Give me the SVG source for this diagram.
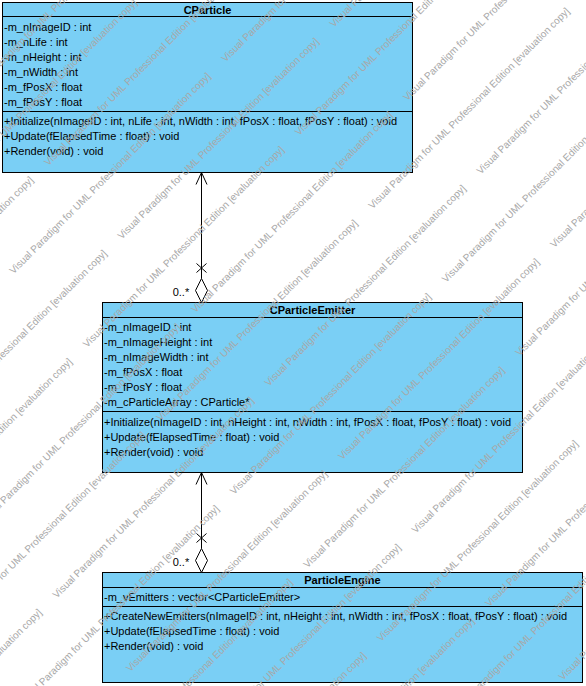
<svg xmlns="http://www.w3.org/2000/svg" width="586" height="686" viewBox="0 0 586 686">
<style>
.box{fill:#7acff5;stroke:#000;stroke-width:1}
.sep{stroke:#000;stroke-width:1}
.t{font-family:"Liberation Sans",Arial,sans-serif;font-size:11px;fill:#000}
.title{font-family:"Liberation Sans",Arial,sans-serif;font-size:11px;font-weight:bold;fill:#000;text-anchor:middle}
.ln{stroke:#000;stroke-width:1;fill:none}
.dia{stroke:#000;stroke-width:1;fill:#fff}
.wm{font-family:"Liberation Sans",Arial,sans-serif;font-size:10px;fill:#a8a8a8}
</style>
<rect width="586" height="686" fill="#fff"/>
<g id="CParticle">
<rect class="box" x="2.5" y="2.5" width="410" height="170"/>
<line class="sep" x1="2.5" y1="16.5" x2="412.5" y2="16.5"/>
<line class="sep" x1="2.5" y1="111.5" x2="412.5" y2="111.5"/>
<text class="title" x="207.5" y="13.5">CParticle</text>
<text class="t" x="4" y="30.7">-m_nImageID : int</text>
<text class="t" x="4" y="45.7">-m_nLife : int</text>
<text class="t" x="4" y="60.7">-m_nHeight : int</text>
<text class="t" x="4" y="75.7">-m_nWidth : int</text>
<text class="t" x="4" y="90.7">-m_fPosX : float</text>
<text class="t" x="4" y="105.7">-m_fPosY : float</text>
<text class="t" x="4" y="124.7" textLength="393" lengthAdjust="spacing">+Initialize(nImageID : int, nLife : int, nWidth : int, fPosX : float, fPosY : float) : void</text>
<text class="t" x="4" y="139.7">+Update(fElapsedTime : float) : void</text>
<text class="t" x="4" y="154.7">+Render(void) : void</text>
</g>
<g id="CParticleEmitter">
<rect class="box" x="102.5" y="302.5" width="420" height="170"/>
<line class="sep" x1="102.5" y1="317.5" x2="522.5" y2="317.5"/>
<line class="sep" x1="102.5" y1="411.5" x2="522.5" y2="411.5"/>
<text class="title" x="312.5" y="314">CParticleEmitter</text>
<text class="t" x="104" y="331">-m_nImageID : int</text>
<text class="t" x="104" y="346">-m_nImageHeight : int</text>
<text class="t" x="104" y="361">-m_nImageWidth : int</text>
<text class="t" x="104" y="376">-m_fPosX : float</text>
<text class="t" x="104" y="391">-m_fPosY : float</text>
<text class="t" x="104" y="406">-m_cParticleArray : CParticle*</text>
<text class="t" x="104" y="425.5" textLength="407" lengthAdjust="spacing">+Initialize(nImageID : int, nHeight : int, nWidth : int, fPosX : float, fPosY : float) : void</text>
<text class="t" x="104" y="440.5">+Update(fElapsedTime : float) : void</text>
<text class="t" x="104" y="455.5">+Render(void) : void</text>
</g>
<g id="ParticleEngine">
<rect class="box" x="102.5" y="572.5" width="480" height="110"/>
<line class="sep" x1="102.5" y1="587.5" x2="582.5" y2="587.5"/>
<line class="sep" x1="102.5" y1="606.5" x2="582.5" y2="606.5"/>
<text class="title" x="342.5" y="584">ParticleEngine</text>
<text class="t" x="104" y="600.7">-m_vEmitters : vector&lt;CParticleEmitter&gt;</text>
<text class="t" x="104" y="620" textLength="463" lengthAdjust="spacing">+CreateNewEmitters(nImageID : int, nHeight : int, nWidth : int, fPosX : float, fPosY : float) : void</text>
<text class="t" x="104" y="635">+Update(fElapsedTime : float) : void</text>
<text class="t" x="104" y="650">+Render(void) : void</text>
</g>
<g id="connectors">
<g id="emitter-particle">
<line class="ln" x1="201.5" y1="172.5" x2="201.5" y2="278.5"/>
<polyline class="ln" points="196,184.5 201.5,172.5 207,184.5"/>
<line class="ln" x1="196.5" y1="263.5" x2="206.5" y2="272.5"/>
<line class="ln" x1="196.5" y1="272.5" x2="206.5" y2="263.5"/>
<polygon class="dia" points="201.5,278.5 195.5,290.5 201.5,302.5 207.5,290.5"/>
<text class="t" x="172.7" y="295.7">0..*</text>
</g>
<g id="engine-emitter">
<line class="ln" x1="201.5" y1="472.5" x2="201.5" y2="548.5"/>
<polyline class="ln" points="196,484.5 201.5,472.5 207,484.5"/>
<line class="ln" x1="196.5" y1="533.5" x2="206.5" y2="542.5"/>
<line class="ln" x1="196.5" y1="542.5" x2="206.5" y2="533.5"/>
<polygon class="dia" points="201.5,548.5 195.5,560.5 201.5,572.5 207.5,560.5"/>
<text class="t" x="172.7" y="566">0..*</text>
</g>
</g>
<g id="watermark">
<text class="wm" transform="translate(-25.25,92.75) rotate(-45)">Visual Paradigm for UML Professional Edition [evaluation copy]</text>
<text class="wm" transform="translate(-60,201) rotate(-45)">Visual Paradigm for UML Professional Edition [evaluation copy]</text>
<text class="wm" transform="translate(-163.75,378.25) rotate(-45)">Visual Paradigm for UML Professional Edition [evaluation copy]</text>
<text class="wm" transform="translate(48.25,166.25) rotate(-45)">Visual Paradigm for UML Professional Edition [evaluation copy]</text>
<text class="wm" transform="translate(13.5,274.5) rotate(-45)">Visual Paradigm for UML Professional Edition [evaluation copy]</text>
<text class="wm" transform="translate(225.5,62.5) rotate(-45)">Visual Paradigm for UML Professional Edition [evaluation copy]</text>
<text class="wm" transform="translate(-90.25,451.75) rotate(-45)">Visual Paradigm for UML Professional Edition [evaluation copy]</text>
<text class="wm" transform="translate(121.75,239.75) rotate(-45)">Visual Paradigm for UML Professional Edition [evaluation copy]</text>
<text class="wm" transform="translate(333.75,27.75) rotate(-45)">Visual Paradigm for UML Professional Edition [evaluation copy]</text>
<text class="wm" transform="translate(-125,560) rotate(-45)">Visual Paradigm for UML Professional Edition [evaluation copy]</text>
<text class="wm" transform="translate(87,348) rotate(-45)">Visual Paradigm for UML Professional Edition [evaluation copy]</text>
<text class="wm" transform="translate(299,136) rotate(-45)">Visual Paradigm for UML Professional Edition [evaluation copy]</text>
<text class="wm" transform="translate(-16.75,525.25) rotate(-45)">Visual Paradigm for UML Professional Edition [evaluation copy]</text>
<text class="wm" transform="translate(195.25,313.25) rotate(-45)">Visual Paradigm for UML Professional Edition [evaluation copy]</text>
<text class="wm" transform="translate(407.25,101.25) rotate(-45)">Visual Paradigm for UML Professional Edition [evaluation copy]</text>
<text class="wm" transform="translate(-51.5,633.5) rotate(-45)">Visual Paradigm for UML Professional Edition [evaluation copy]</text>
<text class="wm" transform="translate(160.5,421.5) rotate(-45)">Visual Paradigm for UML Professional Edition [evaluation copy]</text>
<text class="wm" transform="translate(372.5,209.5) rotate(-45)">Visual Paradigm for UML Professional Edition [evaluation copy]</text>
<text class="wm" transform="translate(-155.25,810.75) rotate(-45)">Visual Paradigm for UML Professional Edition [evaluation copy]</text>
<text class="wm" transform="translate(56.75,598.75) rotate(-45)">Visual Paradigm for UML Professional Edition [evaluation copy]</text>
<text class="wm" transform="translate(268.75,386.75) rotate(-45)">Visual Paradigm for UML Professional Edition [evaluation copy]</text>
<text class="wm" transform="translate(480.75,174.75) rotate(-45)">Visual Paradigm for UML Professional Edition [evaluation copy]</text>
<text class="wm" transform="translate(22,707) rotate(-45)">Visual Paradigm for UML Professional Edition [evaluation copy]</text>
<text class="wm" transform="translate(234,495) rotate(-45)">Visual Paradigm for UML Professional Edition [evaluation copy]</text>
<text class="wm" transform="translate(446,283) rotate(-45)">Visual Paradigm for UML Professional Edition [evaluation copy]</text>
<text class="wm" transform="translate(130.25,672.25) rotate(-45)">Visual Paradigm for UML Professional Edition [evaluation copy]</text>
<text class="wm" transform="translate(342.25,460.25) rotate(-45)">Visual Paradigm for UML Professional Edition [evaluation copy]</text>
<text class="wm" transform="translate(554.25,248.25) rotate(-45)">Visual Paradigm for UML Professional Edition [evaluation copy]</text>
<text class="wm" transform="translate(95.5,780.5) rotate(-45)">Visual Paradigm for UML Professional Edition [evaluation copy]</text>
<text class="wm" transform="translate(307.5,568.5) rotate(-45)">Visual Paradigm for UML Professional Edition [evaluation copy]</text>
<text class="wm" transform="translate(519.5,356.5) rotate(-45)">Visual Paradigm for UML Professional Edition [evaluation copy]</text>
<text class="wm" transform="translate(203.75,745.75) rotate(-45)">Visual Paradigm for UML Professional Edition [evaluation copy]</text>
<text class="wm" transform="translate(415.75,533.75) rotate(-45)">Visual Paradigm for UML Professional Edition [evaluation copy]</text>
<text class="wm" transform="translate(169,854) rotate(-45)">Visual Paradigm for UML Professional Edition [evaluation copy]</text>
<text class="wm" transform="translate(381,642) rotate(-45)">Visual Paradigm for UML Professional Edition [evaluation copy]</text>
<text class="wm" transform="translate(277.25,819.25) rotate(-45)">Visual Paradigm for UML Professional Edition [evaluation copy]</text>
<text class="wm" transform="translate(489.25,607.25) rotate(-45)">Visual Paradigm for UML Professional Edition [evaluation copy]</text>
<text class="wm" transform="translate(454.5,715.5) rotate(-45)">Visual Paradigm for UML Professional Edition [evaluation copy]</text>
<text class="wm" transform="translate(562.75,680.75) rotate(-45)">Visual Paradigm for UML Professional Edition [evaluation copy]</text>
</g>
</svg>
